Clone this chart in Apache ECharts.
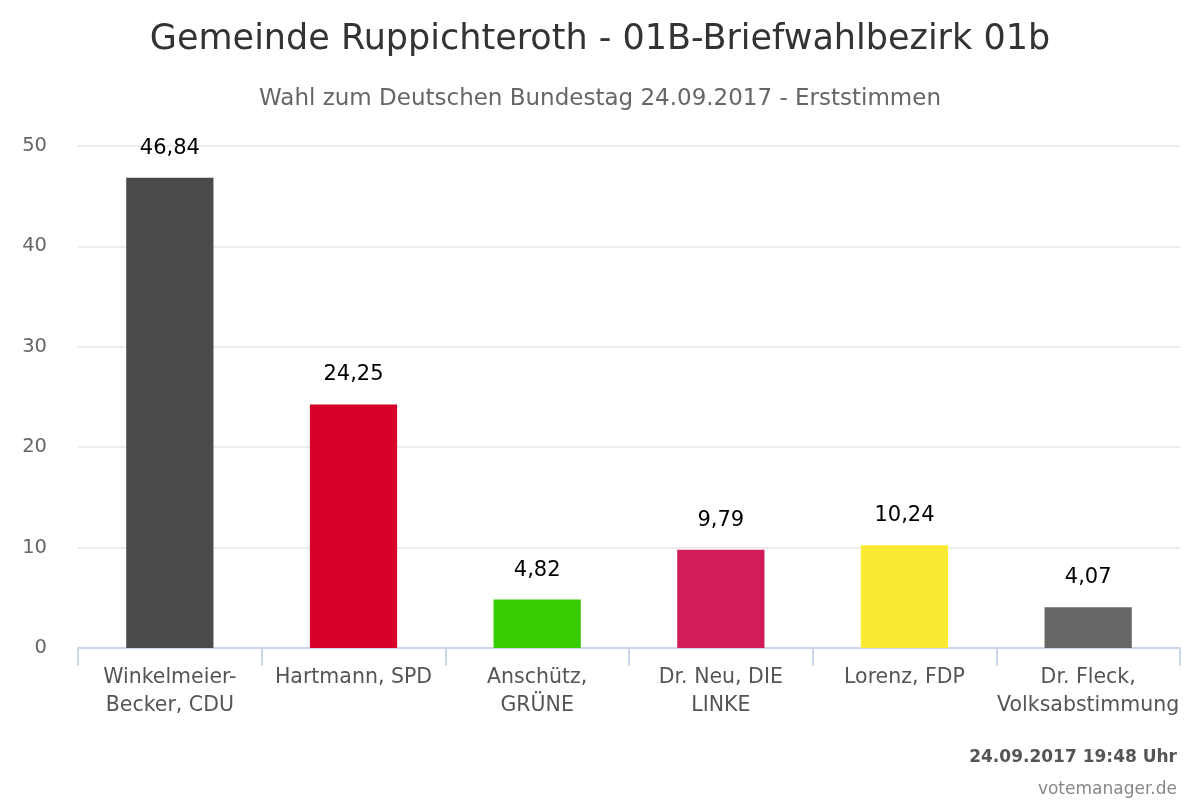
<!DOCTYPE html>
<html><head><meta charset="utf-8">
<script src="https://cdn.jsdelivr.net/npm/echarts@6/dist/echarts.min.js"></script>
<style>html,body{margin:0;padding:0;background:#fff}#c{width:1200px;height:800px}</style>
</head><body><div id="c"></div>
<script>
const categories = ["Winkelmeier-\nBecker, CDU", "Hartmann, SPD", "Anschütz,\nGRÜNE", "Dr. Neu, DIE\nLINKE", "Lorenz, FDP", "Dr. Fleck,\nVolksabstimmung"];
const values = [46.84, 24.25, 4.82, 9.79, 10.24, 4.07];
const barColors = ["#4a4a4a", "#d7002a", "#37cc00", "#d01d5a", "#fbea32", "#666666"];
const yTicks = [0, 10, 20, 30, 40, 50];
const FONT = "DejaVu Sans";

const chart = echarts.init(document.getElementById('c'));
chart.setOption({
  animation: false,
  textStyle: { fontFamily: FONT },
  title: [
    { text: "Gemeinde Ruppichteroth - 01B-Briefwahlbezirk 01b", left: 'center', top: 17,
      textStyle: { fontFamily: FONT, fontSize: 35, fontWeight: 'normal', color: '#333333' } },
    { text: "Wahl zum Deutschen Bundestag 24.09.2017 - Erststimmen", left: 'center', top: 83,
      textStyle: { fontFamily: FONT, fontSize: 23, fontWeight: 'normal', color: '#666666' } },
    { text: "24.09.2017 19:48 Uhr", right: 18, top: 744,
      textStyle: { fontFamily: FONT, fontSize: 17, fontWeight: 'bold', color: '#555555' } },
    { text: "votemanager.de", right: 18, top: 776,
      textStyle: { fontFamily: FONT, fontSize: 17, fontWeight: 'normal', color: '#888888' } }
  ],
  grid: { left: 78, right: 20, top: 146, bottom: 152 },
  xAxis: {
    type: 'category', data: categories,
    axisLine: { lineStyle: { color: '#ccd6eb', width: 2 } },
    axisTick: { show: true, length: 18, lineStyle: { color: '#ccd6eb', width: 2 } },
    axisLabel: { fontFamily: FONT, fontSize: 20.5, color: '#555555', lineHeight: 28, margin: 16, interval: 0 }
  },
  yAxis: {
    type: 'value', min: yTicks[0], max: yTicks[yTicks.length - 1], interval: 10,
    axisLine: { show: false }, axisTick: { show: false },
    axisLabel: { fontFamily: FONT, fontSize: 19.5, color: '#666666', margin: 31, verticalAlign: 'middle', padding: [0, 0, 5, 0] },
    splitLine: { lineStyle: { color: '#e6e6e6', width: 1.5 } }
  },
  series: [{
    type: 'bar', barWidth: '47.5%',
    data: values.map((v, i) => ({ value: v, itemStyle: { color: barColors[i] } })),
    label: { show: true, position: 'top', distance: 19, fontFamily: FONT, fontSize: 21, color: '#000000',
      formatter: p => p.value.toFixed(2).replace('.', ',') }
  }]
});
</script></body></html>
